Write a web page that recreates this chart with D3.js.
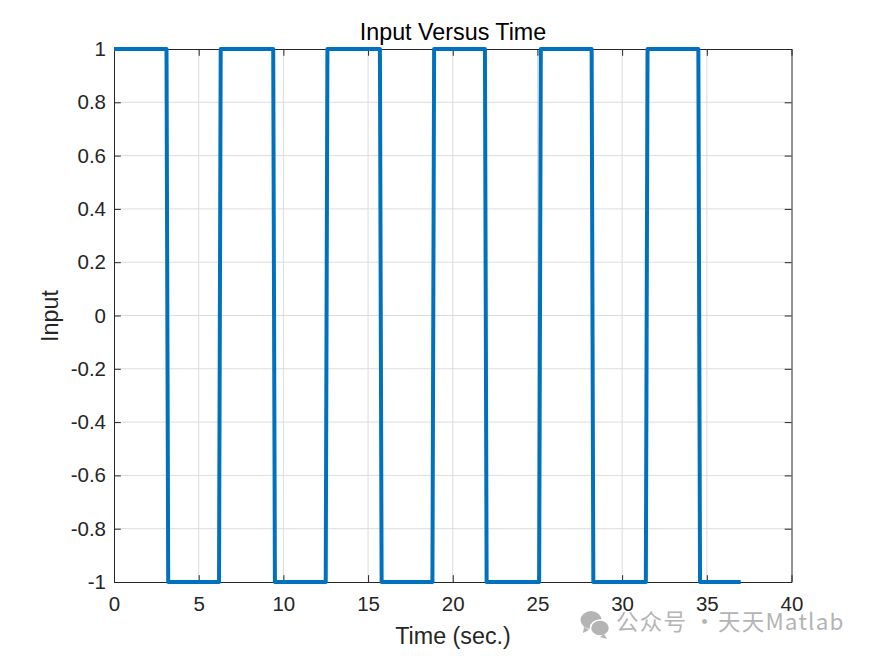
<!DOCTYPE html>
<html><head><meta charset="utf-8">
<script src="https://cdnjs.cloudflare.com/ajax/libs/d3/7.8.5/d3.min.js"></script>
<style>html,body{margin:0;padding:0;background:#fff}svg{display:block}text{font-family:"Liberation Sans",Arial,sans-serif}</style>
</head><body><svg id="c" width="875" height="656"></svg>
<script>
const timeValues = [0,3.1,3.2,6.2,6.3,9.4,9.5,12.5,12.6,15.7,15.8,18.8,18.9,21.9,22.0,25.1,25.2,28.2,28.3,31.4,31.5,34.5,34.6,37];
const inputValues = [1,1,-1,-1,1,1,-1,-1,1,1,-1,-1,1,1,-1,-1,1,1,-1,-1,1,1,-1,-1];
const xTicks = [0,5,10,15,20,25,30,35,40];
const yTicks = [-1,-0.8,-0.6,-0.4,-0.2,0,0.2,0.4,0.6,0.8,1];
const titleText = "Input Versus Time", xLabel = "Time (sec.)", yLabel = "Input";
const watermarkParts = ["公众号 · ", "天天Matlab"];

const L=114,R=791.5,T=49,B=582,ink="#262626";
const svg=d3.select("#c");
const x=d3.scaleLinear().domain([0,40]).range([L,R]);
const y=d3.scaleLinear().domain([-1,1]).range([B,T]);
const fmt=d=>String(+d.toFixed(1));
const g=svg.append("g");
g.selectAll(".gx").data(xTicks.slice(1,-1)).join("line").attr("x1",d=>x(d)).attr("x2",d=>x(d)).attr("y1",T).attr("y2",B).attr("stroke","#dcdcdc");
g.selectAll(".gy").data(yTicks.slice(1,-1)).join("line").attr("y1",d=>y(d)).attr("y2",d=>y(d)).attr("x1",L).attr("x2",R).attr("stroke","#dcdcdc");

const ax=(gen,tr)=>{const a=svg.append("g").attr("transform",tr).call(gen);
 a.select(".domain").attr("stroke",ink).attr("stroke-width",1);
 a.selectAll("line").attr("stroke",ink);
 a.selectAll("text").attr("fill",ink).style("font-size","20.5px").style("font-family",'"Liberation Sans",Arial,sans-serif');return a;};
ax(d3.axisBottom(x).tickValues(xTicks).tickFormat(fmt).tickSizeInner(-6.8).tickSizeOuter(0).tickPadding(14),`translate(0,${B})`);
ax(d3.axisTop(x).tickValues(xTicks).tickFormat("").tickSizeInner(-6.8).tickSizeOuter(0),`translate(0,${T})`);
ax(d3.axisLeft(y).tickValues(yTicks).tickFormat(fmt).tickSizeInner(-6.8).tickSizeOuter(0).tickPadding(8),`translate(${L},0)`);
ax(d3.axisRight(y).tickValues(yTicks).tickFormat("").tickSizeInner(-6.8).tickSizeOuter(0),`translate(${R},0)`);

const line=d3.line().x((d,i)=>x(timeValues[i])).y(d=>y(d));
svg.append("path").datum(inputValues).attr("d",line).attr("fill","none").attr("stroke","#0072BD").attr("stroke-width",4).attr("stroke-linejoin","round");

svg.append("text").attr("x",453).attr("y",40).attr("text-anchor","middle").attr("fill","#000").style("font-size","23.3px").text(titleText);
svg.append("text").attr("x",453).attr("y",644).attr("text-anchor","middle").attr("fill",ink).style("font-size","23.3px").text(xLabel);
svg.append("text").attr("transform","translate(58,316) rotate(-90)").attr("text-anchor","middle").attr("fill",ink).style("font-size","23.3px").text(yLabel);

// watermark
const wm=svg.append("g").attr("fill","#b4b4b4");
wm.append("ellipse").attr("cx",591).attr("cy",620).attr("rx",10.5).attr("ry",9);
wm.append("path").attr("d","M584 627l-1 6 6-3z");
wm.append("ellipse").attr("cx",600).attr("cy",628).attr("rx",9.5).attr("ry",8).attr("stroke","#fff").attr("stroke-width",1.5);
wm.append("path").attr("d","M604 634l3 5-7-2z");
const wt=wm.append("text").attr("y",630).attr("fill","#b4b4b4").style("font-family",'"Noto Sans CJK SC","Noto Sans",sans-serif').style("font-size","22.5px").style("letter-spacing","1.2px");
wt.append("tspan").attr("x",616).text(watermarkParts[0]);
wt.append("tspan").attr("x",718).text(watermarkParts[1]);
</script></body></html>
